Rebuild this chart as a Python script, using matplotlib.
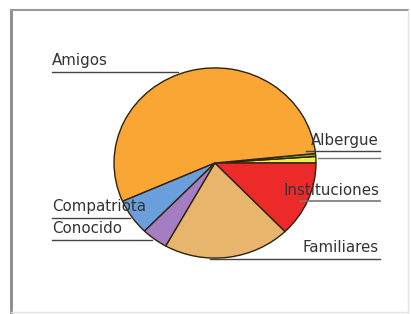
import matplotlib
matplotlib.use("Agg")
import matplotlib.pyplot as plt

# slice order follows the pie, counterclockwise from 3 o'clock
labels = ["Albergue", "", "Amigos", "Compatriota", "Conocido", "Familiares", "Instituciones"]
shares = [1.1, 0.5, 55.0, 6.1, 4.2, 20.3, 12.8]
colors = ["#F4EE4C", "#6FB63C", "#F9A634", "#6A9FDB", "#A57DC2", "#E8B56C", "#EC2A2A"]

fig = plt.figure(figsize=(4.11, 3.14), dpi=100)
W, H = 411, 314

# pie axes, slightly squashed like the original
px0, px1, py0, py1 = 112, 318, 66, 260
pa = fig.add_axes([px0 / W, 1 - py1 / H, (px1 - px0) / W, (py1 - py0) / H])
pa.pie(shares, colors=colors, startangle=0, counterclock=True,
       wedgeprops=dict(edgecolor="#2e220e", linewidth=1.0))
pa.set_aspect("auto")
pa.set_xlim(-1.02, 1.02)
pa.set_ylim(-1.02, 1.02)
pa.axis("off")

# overlay on top, in pixel coords, for frame, labels and leader lines
ov = fig.add_axes([0, 0, 1, 1])
ov.patch.set_alpha(0)
ov.set_xlim(0, W)
ov.set_ylim(H, 0)
ov.axis("off")

# frame
ov.plot([11, 11], [10, 313], color="#8a8a8a", lw=2)
ov.plot([11, 408], [10, 10], color="#9a9a9a", lw=1.5)
ov.plot([408, 408], [10, 313], color="#e2e2e2", lw=1)
ov.plot([11, 408], [312, 312], color="#e2e2e2", lw=1)

font = dict(fontsize=10.8, color="#333333", family="DejaVu Sans")
line = dict(color="#444444", lw=1)

# left labels
ov.text(52, 65, labels[2], ha="left", va="baseline", **font)
ov.plot([52, 178], [71.5, 71.5], **line)
ov.text(52, 211, labels[3], ha="left", va="baseline", **font)
ov.plot([52, 130], [218, 218], **line)
ov.text(52, 233, labels[4], ha="left", va="baseline", **font)
ov.plot([52, 152], [240, 240], **line)

# right labels
ov.text(379, 145, labels[0], ha="right", va="baseline", **font)
ov.plot([306, 380], [151, 151], **line)
ov.plot([318, 380], [158, 158], color="#777777", lw=1)
ov.text(379, 195, labels[6], ha="right", va="baseline", **font)
ov.plot([300, 380], [201, 201], color="#777777", lw=1.2)
ov.text(379, 252, labels[5], ha="right", va="baseline", **font)
ov.plot([210, 380], [258.5, 258.5], **line)

fig.savefig("out.png", dpi=100)
